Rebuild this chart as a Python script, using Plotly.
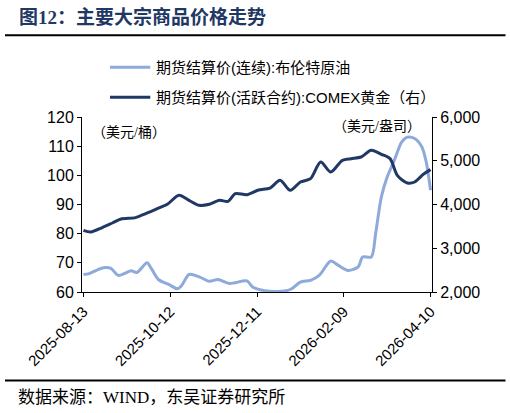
import plotly.graph_objects as go

# Brent crude, continuous settlement (USD/bbl), left axis
oil_dates = [
    "2025-08-13", "2025-08-17", "2025-08-23", "2025-08-28", "2025-09-01",
    "2025-09-06", "2025-09-11", "2025-09-15", "2025-09-19", "2025-09-26",
    "2025-09-29", "2025-10-04", "2025-10-11", "2025-10-17", "2025-10-20",
    "2025-10-25", "2025-11-01", "2025-11-08", "2025-11-14", "2025-11-22",
    "2025-12-04", "2025-12-08", "2025-12-13", "2025-12-20", "2025-12-31",
    "2026-01-04", "2026-01-10", "2026-01-17", "2026-01-23", "2026-01-31",
    "2026-02-05", "2026-02-12", "2026-02-19", "2026-02-22", "2026-02-28",
    "2026-03-03", "2026-03-07", "2026-03-11", "2026-03-16", "2026-03-21",
    "2026-03-25", "2026-03-30", "2026-04-04", "2026-04-07", "2026-04-10",
]
oil_values = [
    66.0, 66.3, 67.7, 68.4, 68.1,
    65.7, 66.5, 67.3, 66.7, 70.0,
    68.0, 64.2, 62.6, 61.1, 62.3,
    66.0, 65.2, 63.7, 64.3, 62.9,
    63.8, 61.7, 60.8, 60.3, 60.4,
    61.1, 63.4, 64.0, 65.7, 70.6,
    69.2, 67.4, 68.6, 72.0, 72.0,
    80.0, 92.6, 99.4, 105.2, 111.4,
    113.1, 112.6, 109.7, 104.6, 94.9,
]

# COMEX gold, active contract (USD/oz), right axis
gold_dates = [
    "2025-08-13", "2025-08-18", "2025-08-26", "2025-09-02", "2025-09-08",
    "2025-09-18", "2025-09-25", "2025-10-03", "2025-10-10", "2025-10-18",
    "2025-10-25", "2025-11-01", "2025-11-08", "2025-11-15", "2025-11-21",
    "2025-11-26", "2025-12-04", "2025-12-12", "2025-12-20", "2025-12-27",
    "2026-01-03", "2026-01-10", "2026-01-17", "2026-01-24", "2026-01-31",
    "2026-02-08", "2026-02-14", "2026-02-21", "2026-02-28", "2026-03-07",
    "2026-03-13", "2026-03-18", "2026-03-25", "2026-03-30", "2026-04-05",
    "2026-04-10",
]
gold_values = [
    3410, 3371, 3472, 3577, 3669,
    3700, 3792, 3906, 4005, 4210,
    4096, 3982, 4005, 4096, 4073,
    4248, 4225, 4330, 4377, 4553,
    4324, 4514, 4590, 4971, 4743,
    5010, 5048, 5086, 5239, 5147,
    5048, 4667, 4491, 4514, 4690,
    4797,
]

x_ticks = ["2025-08-13", "2025-10-12", "2025-12-11", "2026-02-09", "2026-04-10"]

OIL_NAME = "期货结算价(连续):布伦特原油"
GOLD_NAME = "期货结算价(活跃合约):COMEX黄金（右）"
OIL_COLOR = "#8EAADB"
GOLD_COLOR = "#1F3864"
SANS = "Liberation Sans, Noto Sans CJK SC"
SERIF = "Liberation Serif, Noto Sans CJK SC"

fig = go.Figure()

fig.add_trace(go.Scatter(
    x=oil_dates, y=oil_values, name=OIL_NAME,
    mode="lines", line=dict(color=OIL_COLOR, width=3, shape="spline", smoothing=0.8),
))
fig.add_trace(go.Scatter(
    x=gold_dates, y=gold_values, name=GOLD_NAME,
    mode="lines", line=dict(color=GOLD_COLOR, width=3, shape="spline", smoothing=0.8),
    yaxis="y2",
))

axis_style = dict(
    showgrid=False, zeroline=False, automargin=False,
    showline=True, linecolor="black", linewidth=1,
    ticks="outside", ticklen=4, tickcolor="black",
)

fig.update_layout(
    width=510, height=413,
    margin=dict(l=82, r=78, t=117, b=121),
    paper_bgcolor="white", plot_bgcolor="white",
    showlegend=False,
    xaxis=dict(
        type="date",
        range=["2025-08-12", "2026-04-11"],
        tickvals=x_ticks, ticktext=x_ticks,
        tickangle=-45, tickfont=dict(family=SANS, size=15, color="black"),
        **axis_style,
    ),
    yaxis=dict(
        range=[60, 120], dtick=10,
        tickfont=dict(family=SANS, size=16, color="black"),
        **axis_style,
    ),
    yaxis2=dict(
        range=[2000, 6000], dtick=1000, tickformat=",",
        tickfont=dict(family=SANS, size=16, color="black"),
        overlaying="y", side="right",
        **axis_style,
    ),
)

# legend drawn by hand above the plot area
for name, color, ly in [(OIL_NAME, OIL_COLOR, 1.284), (GOLD_NAME, GOLD_COLOR, 1.113)]:
    fig.add_shape(type="line", xref="paper", yref="paper",
                  x0=0.080, x1=0.195, y0=ly, y1=ly,
                  line=dict(color=color, width=3))
    fig.add_annotation(
        text=name, xref="paper", yref="paper", x=0.207, y=ly,
        xanchor="left", yanchor="middle", showarrow=False,
        font=dict(family=SANS, size=15, color="black"),
    )

# Title, unit labels and source
fig.add_annotation(
    text="<b>图12：主要大宗商品价格走势</b>",
    xref="paper", yref="paper", x=-0.185, y=1.57, xanchor="left", yanchor="middle",
    showarrow=False, font=dict(family=SERIF, size=19, color=GOLD_COLOR),
)
fig.add_annotation(
    text="（美元/桶）", xref="paper", yref="paper", x=0.022, y=0.913,
    xanchor="left", yanchor="middle", showarrow=False,
    font=dict(family=SERIF, size=14, color="black"),
)
fig.add_annotation(
    text="（美元/盎司）", xref="paper", yref="paper", x=0.975, y=0.943,
    xanchor="right", yanchor="middle", showarrow=False,
    font=dict(family=SERIF, size=14, color="black"),
)
fig.add_annotation(
    text="数据来源：WIND，东吴证券研究所", xref="paper", yref="paper",
    x=-0.19, y=-0.601, xanchor="left", yanchor="middle", showarrow=False,
    font=dict(family=SERIF, size=17, color="black"),
)

# rules under the title and above the source
fig.add_shape(type="line", xref="paper", yref="paper",
              x0=-0.22, x1=1.21, y0=1.467, y1=1.467,
              line=dict(color="black", width=2))
fig.add_shape(type="line", xref="paper", yref="paper",
              x0=-0.22, x1=1.21, y0=-0.505, y1=-0.505,
              line=dict(color="black", width=2))

# drop the browser's default body margin so the figure sits at the page corner
fig.write_html(
    "out.html",
    config={"displayModeBar": False},
    post_script="document.body.style.margin = '0';",
)
